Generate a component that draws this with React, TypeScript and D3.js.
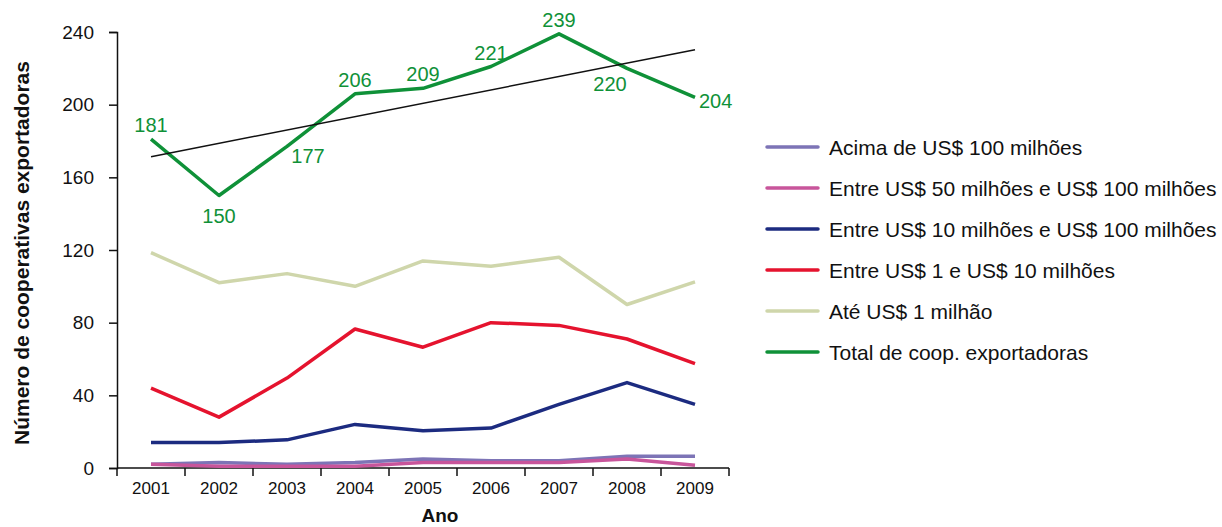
import { useRef, useEffect } from "react";
import * as d3 from "d3";

const years = ["2001", "2002", "2003", "2004", "2005", "2006", "2007", "2008", "2009"];
const yTicks = [0, 40, 80, 120, 160, 200, 240];

const acima100 = [2, 3, 2, 3, 5, 4, 4, 6.5, 6.5];
const entre50e100 = [2, 1, 1, 1, 3, 3, 3, 5, 1.5];
const entre10e100 = [14, 14, 15.5, 24, 20.5, 22, 35, 47, 35];
const entre1e10 = [44, 28, 49.5, 76.5, 66.5, 80, 78.5, 71, 57.5];
const ate1 = [118.5, 102, 107, 100, 114, 111, 116, 90, 102.5];
const total = [181, 150, 177, 206, 209, 221, 239, 220, 204];

// where each total label sits relative to its point
const labelPos = ["above", "below", "belowRight", "above", "above", "above", "above", "belowLeft", "right"];

const series = [
  { name: "Acima de US$ 100 milhões", values: acima100, color: "#7d74b6" },
  { name: "Entre US$ 50 milhões e US$ 100 milhões", values: entre50e100, color: "#c8559b" },
  { name: "Entre US$ 10 milhões e US$ 100 milhões", values: entre10e100, color: "#1c2b80" },
  { name: "Entre US$ 1 e US$ 10 milhões", values: entre1e10, color: "#e5132e" },
  { name: "Até US$ 1 milhão", values: ate1, color: "#cfd6ab" },
  { name: "Total de coop. exportadoras", values: total, color: "#0f9138" },
];

const W = 1222;
const H = 527;
const FONT = "Liberation Sans, Arial, sans-serif";

const placement: Record<string, { dx: number; dy: number; anchor: string }> = {
  above: { dx: 0, dy: -7, anchor: "middle" },
  below: { dx: 0, dy: 27, anchor: "middle" },
  belowRight: { dx: 21, dy: 17, anchor: "middle" },
  belowLeft: { dx: -17, dy: 23, anchor: "middle" },
  right: { dx: 4, dy: 10.5, anchor: "start" },
};

function App() {
  const ref = useRef<SVGSVGElement | null>(null);

  useEffect(() => {
    if (!ref.current) return;
    const svg = d3.select(ref.current).html("");
    svg.style("font-family", FONT);

    const left = 117, right = 729, top = 32, bottom = 468;

    const x = d3.scaleBand<string>().domain(years).range([left, right]);
    const y = d3.scaleLinear().domain([0, 240]).range([bottom, top]);
    const cx = (i: number) => (x(years[i]) as number) + x.bandwidth() / 2;

    // y axis
    const yAxis = svg
      .append("g")
      .attr("transform", `translate(${left},0)`)
      .call(d3.axisLeft(y).tickValues(yTicks).tickSize(8).tickPadding(15));
    yAxis.select(".domain").attr("stroke", "#111").attr("stroke-width", 1.5);
    yAxis.selectAll(".tick line").attr("stroke", "#111").attr("stroke-width", 1.5);
    yAxis
      .selectAll(".tick text")
      .attr("font-size", 19)
      .attr("font-family", FONT)
      .attr("fill", "#111");

    // x axis with ticks at band boundaries
    const xg = svg.append("g");
    xg.append("line")
      .attr("x1", left)
      .attr("x2", right)
      .attr("y1", bottom)
      .attr("y2", bottom)
      .attr("stroke", "#111")
      .attr("stroke-width", 1.5);
    const bounds = years.map((d) => x(d) as number).concat([right]);
    xg.selectAll("line.tk")
      .data(bounds)
      .enter()
      .append("line")
      .attr("class", "tk")
      .attr("x1", (d) => d)
      .attr("x2", (d) => d)
      .attr("y1", bottom)
      .attr("y2", bottom + 8)
      .attr("stroke", "#111")
      .attr("stroke-width", 1.5);
    xg.selectAll("text")
      .data(years)
      .enter()
      .append("text")
      .attr("x", (d) => (x(d) as number) + x.bandwidth() / 2)
      .attr("y", bottom + 26)
      .attr("text-anchor", "middle")
      .attr("font-size", 17)
      .attr("fill", "#111")
      .text((d) => d);

    // axis titles
    svg
      .append("text")
      .attr("transform", `translate(29,253) rotate(-90)`)
      .attr("text-anchor", "middle")
      .attr("font-size", 21)
      .attr("font-weight", "bold")
      .attr("fill", "#111")
      .text("Número de cooperativas exportadoras");
    svg
      .append("text")
      .attr("x", 440)
      .attr("y", 522)
      .attr("text-anchor", "middle")
      .attr("font-size", 19)
      .attr("font-weight", "bold")
      .attr("fill", "#111")
      .text("Ano");

    // lines
    const line = d3
      .line<number>()
      .x((_, i) => cx(i))
      .y((d) => y(d));

    const drawOrder = [4, 3, 2, 0, 1, 5];
    drawOrder.forEach((k) => {
      const s = series[k];
      svg
        .append("path")
        .datum(s.values)
        .attr("fill", "none")
        .attr("stroke", s.color)
        .attr("stroke-width", 3.5)
        .attr("stroke-linejoin", "round")
        .attr("d", line);
    });

    // linear trend of the total
    const n = total.length;
    const idx = d3.range(n);
    const mx = d3.mean(idx) as number;
    const my = d3.mean(total) as number;
    const slope =
      d3.sum(idx, (i) => (i - mx) * (total[i] - my)) /
      d3.sum(idx, (i) => (i - mx) * (i - mx));
    const ends = [0, n - 1];
    svg
      .append("path")
      .datum(ends)
      .attr("fill", "none")
      .attr("stroke", "#111")
      .attr("stroke-width", 1.5)
      .attr(
        "d",
        d3
          .line<number>()
          .x((i) => cx(i))
          .y((i) => y(my + slope * (i - mx)))
      );

    // total labels
    svg
      .selectAll("text.lbl")
      .data(total)
      .enter()
      .append("text")
      .attr("class", "lbl")
      .attr("x", (d, i) => cx(i) + placement[labelPos[i]].dx)
      .attr("y", (d, i) => y(d) + placement[labelPos[i]].dy)
      .attr("text-anchor", (d, i) => placement[labelPos[i]].anchor)
      .attr("font-size", 20)
      .attr("fill", "#0f9138")
      .text((d) => d);

    // legend
    const lg = svg.append("g").attr("transform", "translate(767,147)");
    series.forEach((s, i) => {
      const row = lg.append("g").attr("transform", `translate(0,${i * 41})`);
      row.append("line")
        .attr("x1", 0)
        .attr("x2", 51)
        .attr("y1", 0)
        .attr("y2", 0)
        .attr("stroke", s.color)
        .attr("stroke-width", 3.5)
        .attr("stroke-linecap", "round");
      row.append("text")
        .attr("x", 62)
        .attr("y", 7.5)
        .attr("font-size", 21)
        .attr("fill", "#111")
        .text(s.name);
    });
  }, []);

  return (
    <svg
      ref={ref}
      width={W}
      height={H}
      style={{ position: "absolute", left: 0, top: 0, background: "#fff" }}
    ></svg>
  );
}

export default App;
